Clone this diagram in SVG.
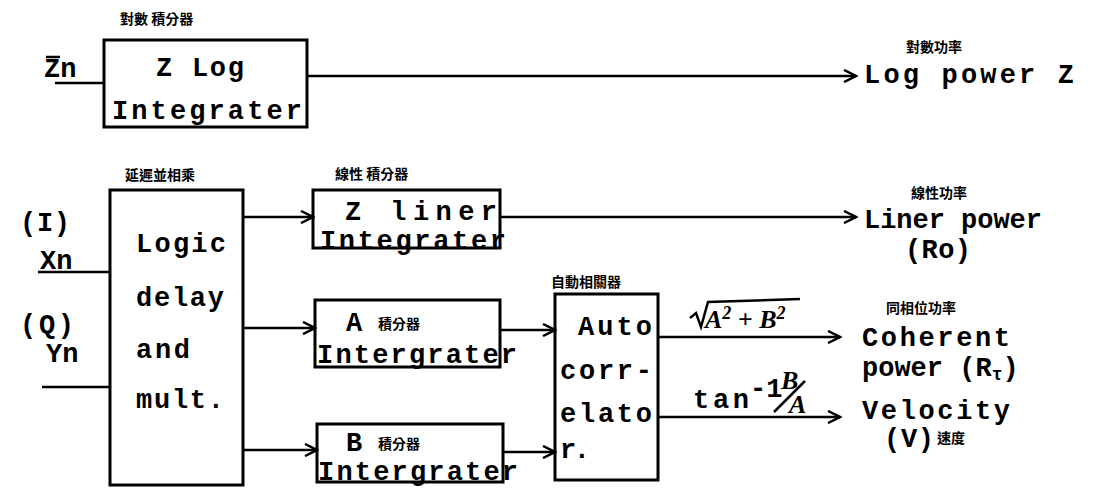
<svg xmlns="http://www.w3.org/2000/svg" width="1106" height="490" viewBox="0 0 1106 490">
<defs>
<style>
.box{fill:none;stroke:#000;stroke-width:3}
.ln{fill:none;stroke:#000;stroke-width:2.5}
.t{font-family:"Liberation Mono","Courier New",monospace;font-weight:bold;font-size:27px;fill:#000}
.c{font-family:"Noto Sans CJK TC","Noto Sans CJK SC",sans-serif;font-weight:bold;font-size:14px;fill:#000}
.h{font-family:"Liberation Serif",serif;font-style:italic;font-weight:bold;font-size:26px;fill:#000}
</style>
<marker id="ar" markerWidth="16" markerHeight="14" refX="14" refY="7" orient="auto" markerUnits="userSpaceOnUse">
<path d="M2,1 L14,7 L2,13" fill="none" stroke="#000" stroke-width="2.5"/>
</marker>
</defs>
<rect width="1106" height="490" fill="#fff"/>

<g id="connectors">
<line class="ln" x1="55" y1="83" x2="104" y2="83"/>
<line class="ln" x1="307" y1="76" x2="856" y2="76" marker-end="url(#ar)"/>
<line class="ln" x1="38" y1="272" x2="110" y2="272"/>
<line class="ln" x1="42" y1="387" x2="110" y2="387"/>
<line class="ln" x1="243" y1="217" x2="313" y2="217" marker-end="url(#ar)"/>
<line class="ln" x1="500" y1="217" x2="856" y2="217" marker-end="url(#ar)"/>
<line class="ln" x1="243" y1="328" x2="315" y2="328" marker-end="url(#ar)"/>
<line class="ln" x1="243" y1="450" x2="317" y2="450" marker-end="url(#ar)"/>
<line class="ln" x1="500" y1="330" x2="555" y2="330" marker-end="url(#ar)"/>
<line class="ln" x1="503" y1="452" x2="555" y2="452" marker-end="url(#ar)"/>
<line class="ln" x1="658" y1="337" x2="840" y2="337" marker-end="url(#ar)"/>
<line class="ln" x1="658" y1="417" x2="840" y2="417" marker-end="url(#ar)"/>
</g>

<g id="input-zn">
<text class="t" x="44" y="77">Zn</text>
<line class="ln" x1="46" y1="57" x2="60" y2="57"/>
</g>

<g id="z-log-integrater">
<rect class="box" x="104" y="40" width="203" height="87"/>
<text class="c" x="120" y="24">對數 積分器</text>
<text class="t" x="156" y="76" textLength="88">Z Log</text>
<text class="t" x="112" y="119" textLength="190">Integrater</text>
</g>

<g id="out-log-power">
<text class="c" x="906" y="52">對數功率</text>
<text class="t" x="864" y="83" textLength="210">Log power Z</text>
</g>

<g id="input-i">
<text class="t" x="20" y="231" textLength="50">(I)</text>
<text class="t" x="40" y="269">Xn</text>
</g>
<g id="input-q">
<text class="t" x="20" y="333" textLength="54">(Q)</text>
<text class="t" x="46" y="362">Yn</text>
</g>

<g id="logic-delay">
<rect class="box" x="110" y="190" width="133" height="295"/>
<text class="c" x="125" y="180">延遲並相乘</text>
<text class="t" x="136" y="252" textLength="90">Logic</text>
<text class="t" x="136" y="306" textLength="88">delay</text>
<text class="t" x="136" y="358" textLength="54">and</text>
<text class="t" x="136" y="408" textLength="88">mult.</text>
</g>

<g id="z-liner-integrater">
<rect class="box" x="313" y="190" width="187" height="58"/>
<text class="c" x="335" y="179">線性 積分器</text>
<text class="t" x="345" y="220" textLength="152">Z liner</text>
<text class="t" x="320" y="249" textLength="186">Integrater</text>
</g>

<g id="out-liner-power">
<text class="c" x="911" y="198">線性功率</text>
<text class="t" x="864" y="228" textLength="178">Liner power</text>
<text class="t" x="905" y="258" textLength="66">(Ro)</text>
</g>

<g id="a-integrater">
<rect class="box" x="315" y="300" width="185" height="67"/>
<text class="t" x="346" y="331">A</text>
<text class="c" x="378" y="329">積分器</text>
<text class="t" x="317" y="363" textLength="200">Intergrater</text>
</g>

<g id="b-integrater">
<rect class="box" x="317" y="424" width="186" height="58"/>
<text class="t" x="346" y="451">B</text>
<text class="c" x="378" y="449">積分器</text>
<text class="t" x="318" y="480" textLength="200">Intergrater</text>
</g>

<g id="auto-correlator">
<rect class="box" x="555" y="294" width="103" height="186"/>
<text class="c" x="551" y="287">自動相關器</text>
<text class="t" x="578" y="335" textLength="74">Auto</text>
<text class="t" x="560" y="379" textLength="92">corr-</text>
<text class="t" x="560" y="422" textLength="92">elato</text>
<text class="t" x="560" y="458" textLength="30">r.</text>
</g>

<g id="label-sqrt">
<path class="ln" d="M690,318 L696,313 L701,327 L708,302 L800,299"/>
<text class="h" x="705" y="328">A<tspan dy="-9" font-size="18">2</tspan><tspan dy="9"> + B</tspan><tspan dy="-9" font-size="18">2</tspan></text>
</g>

<g id="label-tan">
<text class="t" x="693" y="408" textLength="56">tan</text>
<text class="t" x="750" y="397" font-size="16">-1</text>
<text class="h" x="781" y="389" font-size="19">B</text>
<line class="ln" x1="774" y1="412" x2="805" y2="381"/>
<text class="h" x="789" y="413" font-size="19">A</text>
</g>

<g id="out-coherent">
<text class="c" x="886" y="313">同相位功率</text>
<text class="t" x="862" y="346" textLength="148">Coherent</text>
<text class="t" x="862" y="376">power (R<tspan font-size="18" dy="4">τ</tspan><tspan dy="-4">)</tspan></text>
</g>

<g id="out-velocity">
<text class="t" x="862" y="419" textLength="148">Velocity</text>
<text class="t" x="884" y="447" textLength="50">(V)</text>
<text class="c" x="937" y="443">速度</text>
</g>
</svg>
